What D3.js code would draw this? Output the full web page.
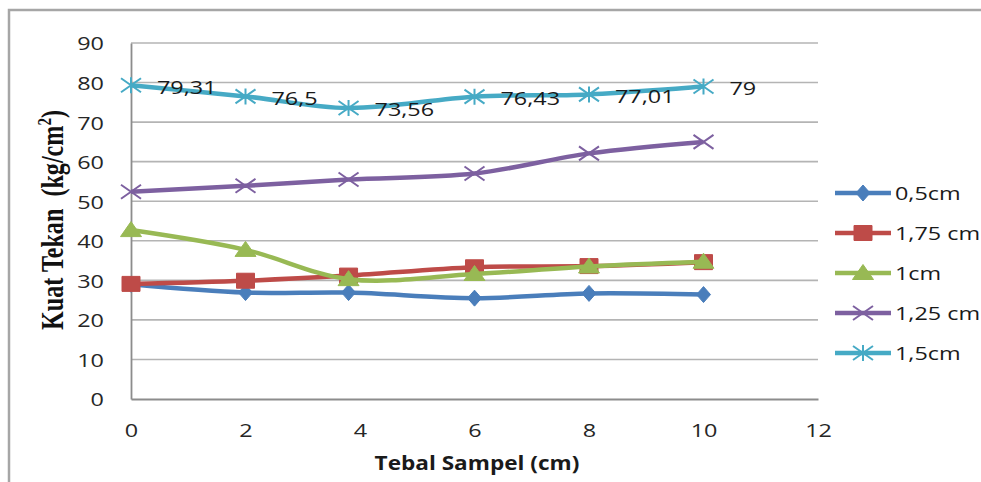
<!DOCTYPE html>
<html>
<head>
<meta charset="utf-8">
<script src="https://cdn.jsdelivr.net/npm/d3@7/dist/d3.min.js"></script>
<style>
  html, body { margin: 0; padding: 0; background: #fff; }
  svg { display: block; }
  text { white-space: pre; }
</style>
</head>
<body>
<svg id="chart" width="981" height="482"></svg>
<script>
// Sample thickness (x) and compressive strength per fibre size
const xValues = [0, 2, 3.8, 6, 8, 10];
const seriesNames = ["0,5cm", "1,75 cm", "1cm", "1,25 cm", "1,5cm"];
const values05 = [29.0, 26.9, 26.9, 25.5, 26.7, 26.4];
const values175 = [29.1, 29.9, 31.2, 33.3, 33.6, 34.6];
const values1 = [42.7, 37.7, 30.3, 31.6, 33.5, 34.7];
const values125 = [52.4, 53.9, 55.5, 57.0, 62.1, 65.0];
const values15 = [79.31, 76.5, 73.56, 76.43, 77.01, 79];
const yTicks = [0, 10, 20, 30, 40, 50, 60, 70, 80, 90];
const xTicks = [0, 2, 4, 6, 8, 10, 12];
const xTitle = "Tebal Sampel (cm)";
const yTitle = "Kuat Tekan  (kg/cm";

const colors = ["#4A7EBB", "#BE4B48", "#98B954", "#7D60A0", "#46AAC5"];
const markers = ["diamond", "square", "triangle", "cross", "star"];
const seriesValues = [values05, values175, values1, values125, values15];

const svg = d3.select("#chart");
const SX = 1.3; // horizontal text stretch

const x = d3.scaleLinear().domain([0, 12]).range([131, 818]);
const y = d3.scaleLinear().domain([0, 90]).range([399, 43]);

svg.append("rect").attr("width", 981).attr("height", 482).attr("fill", "#fff");

// outer chart frame
svg.append("path")
  .attr("d", "M9,482 L9,10 L981,10")
  .attr("fill", "none").attr("stroke", "#A6A6A6").attr("stroke-width", 2.5);

// horizontal gridlines
svg.append("g").selectAll("line").data(yTicks.slice(1)).join("line")
  .attr("x1", x(0)).attr("x2", x(12))
  .attr("y1", d => y(d)).attr("y2", d => y(d))
  .attr("stroke", "#B4B4B4").attr("stroke-width", 1.6);

// axes
const yAxis = svg.append("g").attr("transform", `translate(${x(0)},0)`)
  .call(d3.axisLeft(y).tickValues(yTicks).tickSize(0).tickPadding(0));
const xAxis = svg.append("g").attr("transform", `translate(0,${y(0)})`)
  .call(d3.axisBottom(x).tickValues(xTicks).tickSize(0).tickPadding(0));
[yAxis, xAxis].forEach(g => {
  g.select(".domain").attr("stroke", "#8C8C8C").attr("stroke-width", 1.8);
  g.selectAll("text").attr("font-family", "'Open Sans', sans-serif")
    .attr("font-size", 18).attr("fill", "#262626");
});
yAxis.selectAll("text")
  .attr("x", 0).attr("dy", null).attr("dominant-baseline", "central")
  .attr("transform", `translate(-27,0) scale(${SX},1)`);
xAxis.selectAll("text")
  .attr("y", 0).attr("dy", null).attr("dominant-baseline", "central")
  .attr("transform", `translate(0,31) scale(${SX},1)`);

// marker shapes
function markerPath(type) {
  switch (type) {
    case "diamond": return "M0,-8 L7,0 L0,8 L-7,0 Z";
    case "square": return "M-9,-7.5 L9,-7.5 L9,7.5 L-9,7.5 Z";
    case "triangle": return "M0,-8.5 L10.5,6.5 L-10.5,6.5 Z";
    case "cross": return "M-10,-7 L10,7 M-10,7 L10,-7";
    case "star": return "M-10,-7 L10,7 M-10,7 L10,-7 M0,-8 L0,8";
  }
}
function drawMarker(g, type, color) {
  const filled = type === "diamond" || type === "square" || type === "triangle";
  g.append("path").attr("d", markerPath(type))
    .attr("fill", filled ? color : "none")
    .attr("stroke", color)
    .attr("stroke-width", filled ? 1 : 2);
}

const line = d3.line()
  .x((d, i) => x(xValues[i]))
  .y(d => y(d))
  .curve(d3.curveCatmullRom.alpha(0.5));

const plot = svg.append("g");
seriesValues.forEach((vals, si) => {
  const g = plot.append("g");
  g.append("path").attr("d", line(vals))
    .attr("fill", "none").attr("stroke", colors[si])
    .attr("stroke-width", 4.5).attr("stroke-linejoin", "round");
  vals.forEach((v, i) => {
    const m = g.append("g").attr("transform", `translate(${x(xValues[i])},${y(v)})`);
    drawMarker(m, markers[si], colors[si]);
  });
});

// data labels for the 1,5cm series
const fmt = v => String(v).replace(".", ",");
svg.append("g").selectAll("text").data(values15).join("text")
  .attr("transform", (d, i) => `translate(${x(xValues[i]) + 26},${y(d) + 1.5}) scale(${SX},1)`)
  .attr("dominant-baseline", "central")
  .attr("font-family", "'Open Sans', sans-serif").attr("font-size", 18)
  .attr("fill", "#1a1a1a")
  .text(fmt);

// legend
const legend = svg.append("g");
seriesNames.forEach((name, i) => {
  const ly = 193 + i * 40;
  const g = legend.append("g").attr("transform", `translate(0,${ly})`);
  g.append("line").attr("x1", 835).attr("x2", 891)
    .attr("stroke", colors[i]).attr("stroke-width", 4.5);
  const m = g.append("g").attr("transform", "translate(863,0)");
  drawMarker(m, markers[i], colors[i]);
  g.append("text")
    .attr("transform", `translate(895,0) scale(${SX},1)`)
    .attr("dominant-baseline", "central")
    .attr("font-family", "'Open Sans', sans-serif").attr("font-size", 18)
    .attr("fill", "#1a1a1a")
    .text(name);
});

// x axis title
const xt = svg.append("text")
  .attr("text-anchor", "middle").attr("dominant-baseline", "central")
  .attr("font-family", "'Open Sans', sans-serif").attr("font-weight", "bold")
  .attr("font-size", 19).attr("fill", "#1a1a1a")
  .text(xTitle);
const xtLen = xt.node().getComputedTextLength();
xt.attr("transform", `translate(477,463) scale(${205 / xtLen},1)`);

// y axis title (rotated, serif bold, with superscript)
const yt = svg.append("text")
  .attr("text-anchor", "middle")
  .attr("font-family", "'Liberation Serif', 'Times New Roman', serif")
  .attr("font-weight", "bold").attr("font-size", 24).attr("fill", "#111");
yt.append("tspan").text(yTitle);
yt.append("tspan").attr("dy", -9).attr("font-size", 15).text("2");
yt.append("tspan").attr("dy", 9).text(")");
const ytLen = yt.node().getComputedTextLength();
yt.attr("transform", `translate(63,220) scale(${SX},${220 / ytLen}) rotate(-90)`);
</script>
</body>
</html>
